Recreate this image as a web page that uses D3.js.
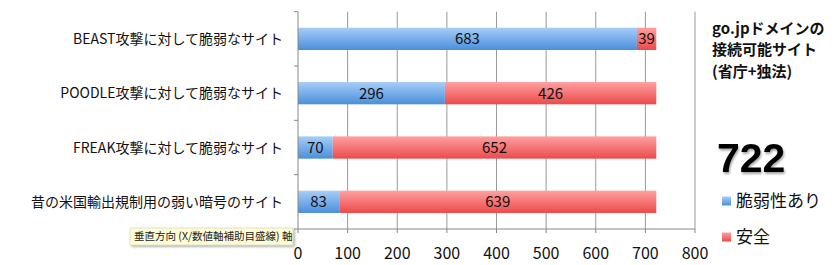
<!DOCTYPE html>
<html><head><meta charset="utf-8">
<script src="https://cdn.jsdelivr.net/npm/d3@7"></script>
<style>
body{margin:0;background:#fff;}
svg{display:block;}
</style></head>
<body><svg id="c" width="840" height="265"></svg>
<script>
const categories = ["BEAST攻撃に対して脆弱なサイト","POODLE攻撃に対して脆弱なサイト","FREAK攻撃に対して脆弱なサイト","昔の米国輸出規制用の弱い暗号のサイト"];
const vulnerable = [683, 296, 70, 83];
const safe = [39, 426, 652, 639];
const xTicks = [0,100,200,300,400,500,600,700,800];
const seriesNames = ["脆弱性あり","安全"];
const titleLines = ["go.jpドメインの","接続可能サイト","(省庁+独法)"];
const totalLabel = "722";
const tooltipText = "垂直方向 (X/数値軸補助目盛線) 軸";

(function(){
const svg = d3.select("#c");
const font = "'Noto Sans CJK JP', 'Noto Sans', sans-serif";
const pl = 298, pr = 695, pt = 11.7, pb = 229;

const x = d3.scaleLinear().domain([0,800]).range([pl,pr]);
const y = d3.scaleBand().domain(categories).range([pt,pb]).paddingInner(0.59).paddingOuter(0.295);

const defs = svg.append("defs");
function grad(id, c1, c2){
  const g = defs.append("linearGradient").attr("id",id).attr("x1",0).attr("y1",0).attr("x2",0).attr("y2",1);
  g.append("stop").attr("offset","0%").attr("stop-color",c1);
  g.append("stop").attr("offset","100%").attr("stop-color",c2);
}
grad("gBlue","#a6cdf7","#4a8fdc");
grad("gRed","#ffa0a0","#ec4a4a");
const sh = defs.append("filter").attr("id","shadow").attr("x","-10%").attr("y","-10%").attr("width","130%").attr("height","160%");
sh.append("feDropShadow").attr("dx",1.5).attr("dy",1.5).attr("stdDeviation",1.2).attr("flood-color","#000").attr("flood-opacity",0.35);
const ts = defs.append("filter").attr("id","tshadow");
ts.append("feDropShadow").attr("dx",1).attr("dy",2).attr("stdDeviation",1).attr("flood-color","#000").attr("flood-opacity",0.35);

// gridlines
svg.append("g").selectAll("line").data(xTicks.filter(d=>d>0)).join("line")
  .attr("x1",d=>x(d)).attr("x2",d=>x(d)).attr("y1",pt).attr("y2",pb)
  .attr("stroke","#9a9a9a").attr("stroke-width",1);

// bars
const rows = categories.map((c,i)=>({c, v:vulnerable[i], s:safe[i]}));
const g = svg.append("g");
rows.forEach(r=>{
  g.append("rect").attr("x",x(0)).attr("y",y(r.c)).attr("width",x(r.v)-x(0)).attr("height",y.bandwidth()).attr("fill","url(#gBlue)");
  g.append("rect").attr("x",x(r.v)).attr("y",y(r.c)).attr("width",x(r.v+r.s)-x(r.v)).attr("height",y.bandwidth()).attr("fill","url(#gRed)");
  g.append("text").attr("x",(x(0)+x(r.v))/2).attr("y",y(r.c)+y.bandwidth()/2).attr("dy","0.36em")
    .attr("text-anchor","middle").attr("font-family",font).attr("font-size",15).attr("fill","#111").text(r.v);
  g.append("text").attr("x",(x(r.v)+x(r.v+r.s))/2).attr("y",y(r.c)+y.bandwidth()/2).attr("dy","0.36em")
    .attr("text-anchor","middle").attr("font-family",font).attr("font-size",15).attr("fill","#111").text(r.s);
});

// y axis
const ya = svg.append("g").attr("transform",`translate(${pl},0)`);
ya.append("line").attr("x1",0).attr("x2",0).attr("y1",pt).attr("y2",pb).attr("stroke","#888");
const yTicks = d3.range(categories.length+1).map(i=>pt+i*(pb-pt)/categories.length);
ya.selectAll("line.t").data(yTicks).join("line").attr("class","t").attr("x1",-4).attr("x2",0).attr("y1",d=>d).attr("y2",d=>d).attr("stroke","#888");
ya.selectAll("text").data(categories).join("text")
  .attr("x",-15).attr("y",d=>y(d)+y.bandwidth()/2).attr("dy","0.36em").attr("text-anchor","end")
  .attr("font-family",font).attr("font-size",14).attr("fill","#111").text(d=>d);

// x axis
const xa = svg.append("g").attr("transform",`translate(0,${pb})`);
xa.append("line").attr("x1",pl).attr("x2",pr).attr("stroke","#888");
xa.selectAll("line.t").data(xTicks).join("line").attr("class","t").attr("x1",d=>x(d)).attr("x2",d=>x(d)).attr("y1",0).attr("y2",4).attr("stroke","#888");
xa.selectAll("text").data(xTicks).join("text").attr("x",d=>x(d)).attr("y",24).attr("dy","0.36em")
  .attr("text-anchor","middle").attr("font-family",font).attr("font-size",16).attr("fill","#111").text(d=>d);

// tooltip
const tt = svg.append("g").attr("transform","translate(130,228)");
tt.append("rect").attr("width",163).attr("height",17).attr("fill","#fdfdd8").attr("stroke","#c8c8a8").attr("stroke-width",0.5).attr("filter","url(#shadow)");
tt.append("text").attr("x",4).attr("y",8.5).attr("dy","0.36em").attr("font-family",font).attr("font-size",10.5).attr("fill","#222").text(tooltipText);

// right panel
const rp = svg.append("g");
rp.selectAll("text.title").data(titleLines).join("text").attr("class","title")
  .attr("x",712).attr("y",(d,i)=>28.5+i*21.5).attr("dy","0.36em")
  .attr("font-family",font).attr("font-size",15).attr("font-weight","bold").attr("fill","#111").text(d=>d);
rp.append("text").attr("x",717).attr("y",172).attr("font-family","'Liberation Sans', Arial, sans-serif")
  .attr("font-size",41).attr("font-weight","bold").attr("fill","#000").attr("filter","url(#tshadow)").text(totalLabel);
const leg = rp.selectAll("g.leg").data(seriesNames).join("g").attr("class","leg")
  .attr("transform",(d,i)=>`translate(722,${201+i*36})`);
leg.append("rect").attr("x",0).attr("y",-4.5).attr("width",9).attr("height",9).attr("fill",(d,i)=>i===0?"url(#gBlue)":"url(#gRed)");
leg.append("text").attr("x",14).attr("y",0).attr("dy","0.36em").attr("font-family",font).attr("font-size",17).attr("fill","#111").text(d=>d);
})();
</script></body></html>
